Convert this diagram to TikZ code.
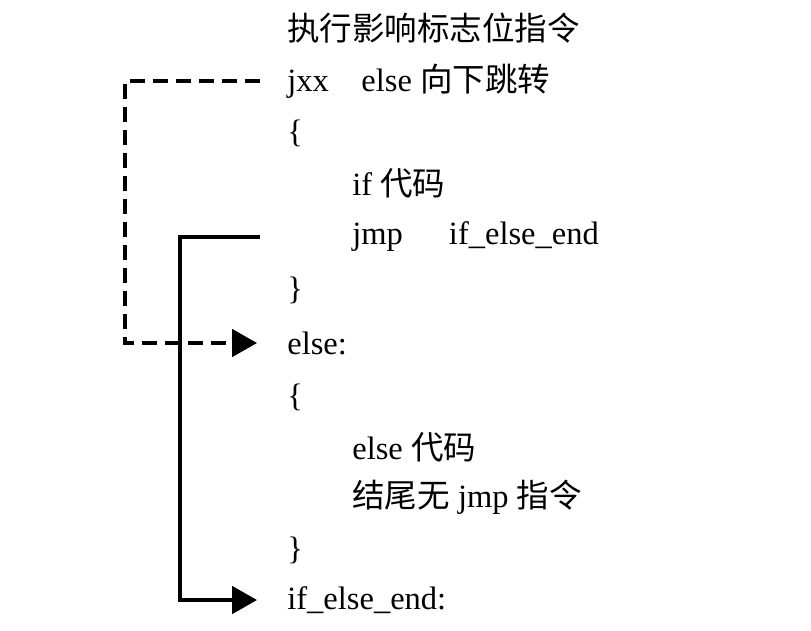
\documentclass[tikz,border=0pt]{standalone}
\usepackage{fontspec}
\setmainfont{Liberation Serif}
\newfontfamily\cjk{Noto Sans CJK SC}
\usetikzlibrary{arrows.meta}
\tikzset{
	code/.style={anchor=west, inner sep=0pt, font=\fontsize{18.5}{22}\selectfont},
	jumpline/.style={line width=2pt, -{Triangle[length=0.5cm, width=0.55cm]}, shorten <=0.54cm, shorten >=0.6cm},
	dashjump/.style={jumpline, dash pattern=on 0.3cm off 0.16cm}
}
\begin{document}
\begin{tikzpicture}
		\useasboundingbox (0, 0) rectangle (16.22, -12.6);
		
		\node[code] (title) at (5.74, -0.56) {\cjk 执行影响标志位指令};
		\node[code] (jxx) at (5.74, -1.62) {jxx\quad else {\cjk 向下跳转}};
		\node[code] (lbrace1) at (5.74, -2.66) {\{};
		\node[code] (ifcode) at (7.04, -3.66) {if {\cjk 代码}};
		\node[code] (jmp) at (7.04, -4.74) {jmp\quad\, if\_else\_end};
		\node[code] (rbrace1) at (5.74, -5.8) {\}};
		\node[code] (elselbl) at (5.74, -6.86) {else:};
		\node[code] (lbrace2) at (5.74, -7.94) {\{};
		\node[code] (elsecode) at (7.04, -8.94) {else {\cjk 代码}};
		\node[code] (nojmp) at (7.04, -9.94) {{\cjk 结尾无} jmp {\cjk 指令}};
		\node[code] (rbrace2) at (5.74, -11.0) {\}};
		\node[code] (endlbl) at (5.74, -12.0) {if\_else\_end:};
		
		\draw[dashjump] (jxx.west) -- ++(-3.24, 0) |- (elselbl.west);
		\draw[jumpline] (jmp.west -| jxx.west) -- ++(-2.14, 0) |- (endlbl.west);
	\end{tikzpicture}
\end{document}
